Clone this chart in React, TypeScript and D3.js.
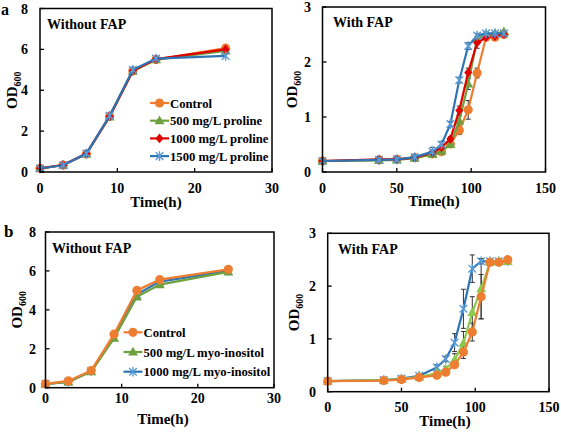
import React from "react";
import * as d3 from "d3";

// ---------- DATA ----------
const aLeftTime = [0, 3, 6, 9, 12, 15, 24];
const aLeftControl = [0.18, 0.34, 0.88, 2.72, 4.95, 5.5, 6.06];
const aLeftPro500 = [0.18, 0.34, 0.88, 2.7, 4.93, 5.5, 5.92];
const aLeftPro1000 = [0.18, 0.34, 0.9, 2.72, 4.95, 5.52, 6.0];
const aLeftPro1500 = [0.17, 0.33, 0.9, 2.75, 5.0, 5.55, 5.68];

const aRightTime = [0, 38, 50, 62, 74, 80, 86, 92, 98, 104, 110, 116, 122];
const aRightControl = [0.2, 0.22, 0.23, 0.26, 0.33, 0.37, 0.51, 0.76, 1.13, 1.8, 2.45, 2.45, 2.5];
const aRightControlErr = [0, 0, 0, 0, 0, 0.02, 0.04, 0.08, 0.17, 0.09, 0, 0, 0];
const aRightPro500 = [0.2, 0.21, 0.22, 0.25, 0.32, 0.38, 0.5, 0.93, 1.6, 2.42, 2.5, 2.52, 2.55];
const aRightPro500Err = [0, 0, 0, 0, 0.03, 0.04, 0.05, 0.1, 0.1, 0.05, 0.03, 0, 0];
const aRightPro1000 = [0.2, 0.23, 0.23, 0.26, 0.35, 0.45, 0.6, 1.12, 1.81, 2.35, 2.45, 2.47, 2.5];
const aRightPro1000Err = [0, 0, 0, 0, 0, 0.03, 0.04, 0.08, 0.08, 0.1, 0.03, 0, 0];
const aRightPro1500 = [0.2, 0.22, 0.23, 0.27, 0.37, 0.5, 0.87, 1.67, 2.29, 2.48, 2.52, 2.52, 2.52];
const aRightPro1500Err = [0, 0, 0, 0, 0.08, 0.05, 0.05, 0.05, 0.06, 0.04, 0.03, 0.03, 0.03];

const bLeftTime = [0, 3, 6, 9, 12, 15, 24];
const bLeftControl = [0.2, 0.35, 0.88, 2.75, 5.0, 5.55, 6.08];
const bLeftIno500 = [0.18, 0.3, 0.82, 2.55, 4.67, 5.3, 5.95];
const bLeftIno1000 = [0.2, 0.3, 0.85, 2.6, 4.8, 5.45, 6.0];

const bRightTime = [0, 38, 50, 62, 74, 80, 86, 92, 98, 104, 110, 116, 122];
const bRightControl = [0.2, 0.21, 0.23, 0.27, 0.31, 0.37, 0.51, 0.75, 1.13, 1.8, 2.45, 2.45, 2.5];
const bRightControlErr = [0, 0, 0, 0, 0, 0, 0.05, 0.12, 0.17, 0.42, 0, 0, 0];
const bRightIno500 = [0.2, 0.22, 0.24, 0.28, 0.35, 0.43, 0.6, 0.92, 1.5, 1.95, 2.45, 2.47, 2.47];
const bRightIno500Err = [0, 0, 0, 0, 0.03, 0.05, 0.12, 0.22, 0.3, 0.57, 0.03, 0.03, 0.03];
const bRightIno1000 = [0.2, 0.22, 0.25, 0.3, 0.46, 0.62, 0.93, 1.57, 2.33, 2.47, 2.47, 2.47, 2.47];
const bRightIno1000Err = [0, 0, 0, 0, 0.05, 0.05, 0.17, 0.37, 0.26, 0.05, 0.05, 0.05, 0.05];

const timeTicks30 = [0, 10, 20, 30];
const timeTicks150 = [0, 50, 100, 150];
const odTicks8 = [0, 2, 4, 6, 8];
const odTicks3 = [0, 1, 2, 3];

const legendA = ["Control", "500 mg/L proline", "1000 mg/L proline", "1500 mg/L proline"];
const legendB = ["Control", "500 mg/L myo-inositol", "1000 mg/L myo-inositol"];

// ---------- STYLES ----------
const FONT = "'Times New Roman', 'Liberation Serif', serif";
const ORANGE = "#ED7D31";
const GREEN = "#6FA03F";
const GREEN_LIGHT = "#8DC94E";
const RED = "#E00000";
const BLUE = "#2E75B6";
const BLUE_MK = "#5B9BD5";

type Marker = "circle" | "triangle" | "diamond" | "star";
type Series = { name: string; y: number[]; err?: number[]; color: string; mcolor: string; marker: Marker };

function MarkerShape({ type, x, y, color }: { type: Marker; x: number; y: number; color: string }) {
  if (type === "circle") return <circle cx={x} cy={y} r={4.6} fill={color} />;
  if (type === "triangle")
    return <path d={`M${x},${y - 5.2} L${x + 5},${y + 3.6} L${x - 5},${y + 3.6} Z`} fill={color} />;
  if (type === "diamond")
    return <path d={`M${x},${y - 4.8} L${x + 4},${y} L${x},${y + 4.8} L${x - 4},${y} Z`} fill={color} />;
  return (
    <path
      d={`M${x - 3.8},${y - 3.8} L${x + 3.8},${y + 3.8} M${x - 3.8},${y + 3.8} L${x + 3.8},${y - 3.8} M${x},${y - 4.8} L${x},${y + 4.8}`}
      stroke={color}
      strokeWidth={1.4}
      fill="none"
    />
  );
}

type PanelProps = {
  left: number; right: number; top: number; bottom: number;
  xMax: number; yMax: number; xTicks: number[]; yTicks: number[];
  time: number[]; series: Series[];
  title: string; titleX: number; titleY: number;
  tickLabelDy: number; xTitleDy: number; xTitleX: number;
  yLabelX: number; yTitleX: number;
  legend?: { x: number; y: number; dy: number; names: string[]; order: Series[] };
};

function Panel(p: PanelProps) {
  const x = d3.scaleLinear().domain([0, p.xMax]).range([p.left, p.right]);
  const y = d3.scaleLinear().domain([0, p.yMax]).range([p.bottom, p.top]);
  const line = d3.line<number>().x((_, i) => x(p.time[i])).y((d) => y(d));
  return (
    <g>
      {p.series.map((s) =>
        (s.err || []).map((e, i) =>
          e > 0 ? (
            <g key={s.name + "e" + i} stroke="#333" strokeWidth={1}>
              <line x1={x(p.time[i])} x2={x(p.time[i])} y1={y(s.y[i] - e)} y2={y(s.y[i] + e)} />
              <line x1={x(p.time[i]) - 2.5} x2={x(p.time[i]) + 2.5} y1={y(s.y[i] - e)} y2={y(s.y[i] - e)} />
              <line x1={x(p.time[i]) - 2.5} x2={x(p.time[i]) + 2.5} y1={y(s.y[i] + e)} y2={y(s.y[i] + e)} />
            </g>
          ) : null
        )
      )}
      {p.series.map((s) => (
        <g key={s.name}>
          <path d={line(s.y) || ""} fill="none" stroke={s.color} strokeWidth={2.2} />
          {s.y.map((v, i) => (
            <MarkerShape key={i} type={s.marker} x={x(p.time[i])} y={y(v)} color={s.mcolor} />
          ))}
        </g>
      ))}
      <rect x={p.left} y={p.top} width={p.right - p.left} height={p.bottom - p.top} fill="none" stroke="#000" strokeWidth={1.5} />
      {p.xTicks.map((t) => (
        <g key={"xt" + t}>
          <line x1={x(t)} x2={x(t)} y1={p.bottom} y2={p.bottom - 4} stroke="#000" strokeWidth={1.3} />
          <text x={x(t)} y={p.bottom + p.tickLabelDy} textAnchor="middle" fontSize={14} fontWeight="bold" fontFamily={FONT}>{t}</text>
        </g>
      ))}
      {p.yTicks.map((t) => (
        <g key={"yt" + t}>
          <line x1={p.left} x2={p.left + 4} y1={y(t)} y2={y(t)} stroke="#000" strokeWidth={1.3} />
          <text x={p.yLabelX} y={y(t) + 5} textAnchor="end" fontSize={14} fontWeight="bold" fontFamily={FONT}>{t}</text>
        </g>
      ))}
      <text x={p.xTitleX} y={p.bottom + p.xTitleDy} textAnchor="middle" fontSize={15} fontWeight="bold" fontFamily={FONT}>Time(h)</text>
      <text
        transform={`translate(${p.yTitleX},${(p.top + p.bottom) / 2}) rotate(-90)`}
        textAnchor="middle"
        fontSize={15}
        fontWeight="bold"
        fontFamily={FONT}
      >
        OD<tspan fontSize={10} dy={4}>600</tspan>
      </text>
      <text x={p.titleX} y={p.titleY} fontSize={14} fontWeight="bold" fontFamily={FONT}>{p.title}</text>
      {p.legend &&
        p.legend.order.map((s, i) => {
          const ly = p.legend!.y + i * p.legend!.dy;
          const lx = p.legend!.x;
          return (
            <g key={"lg" + i}>
              <line x1={lx} x2={lx + 19} y1={ly} y2={ly} stroke={s.color} strokeWidth={2.2} />
              <MarkerShape type={s.marker} x={lx + 9.5} y={ly} color={s.mcolor} />
              <text x={lx + 20} y={ly + 4.5} fontSize={12.7} fontWeight="bold" fontFamily={FONT}>{p.legend!.names[i]}</text>
            </g>
          );
        })}
    </g>
  );
}

export default function App() {
  const aLeftSeries: Series[] = [
    { name: "c", y: aLeftControl, color: ORANGE, mcolor: ORANGE, marker: "circle" },
    { name: "p500", y: aLeftPro500, color: GREEN, mcolor: GREEN, marker: "triangle" },
    { name: "p1000", y: aLeftPro1000, color: RED, mcolor: RED, marker: "diamond" },
    { name: "p1500", y: aLeftPro1500, color: BLUE, mcolor: BLUE_MK, marker: "star" },
  ];
  const aRightSeries: Series[] = [
    { name: "c", y: aRightControl, err: aRightControlErr, color: ORANGE, mcolor: ORANGE, marker: "circle" },
    { name: "p500", y: aRightPro500, err: aRightPro500Err, color: GREEN, mcolor: GREEN, marker: "triangle" },
    { name: "p1000", y: aRightPro1000, err: aRightPro1000Err, color: RED, mcolor: RED, marker: "diamond" },
    { name: "p1500", y: aRightPro1500, err: aRightPro1500Err, color: BLUE, mcolor: BLUE_MK, marker: "star" },
  ];
  const bLeftSeries: Series[] = [
    { name: "i1000", y: bLeftIno1000, color: BLUE, mcolor: BLUE_MK, marker: "star" },
    { name: "i500", y: bLeftIno500, color: GREEN, mcolor: GREEN, marker: "triangle" },
    { name: "c", y: bLeftControl, color: ORANGE, mcolor: ORANGE, marker: "circle" },
  ];
  const bRightSeries: Series[] = [
    { name: "i1000", y: bRightIno1000, err: bRightIno1000Err, color: BLUE, mcolor: BLUE_MK, marker: "star" },
    { name: "i500", y: bRightIno500, err: bRightIno500Err, color: GREEN_LIGHT, mcolor: GREEN_LIGHT, marker: "triangle" },
    { name: "c", y: bRightControl, err: bRightControlErr, color: ORANGE, mcolor: ORANGE, marker: "circle" },
  ];
  return (
    <svg width={561} height={433} style={{ position: "absolute", left: 0, top: 0, background: "#fff" }}>
      <rect width={561} height={433} fill="#fff" />
      <text x={1} y={15} fontSize={16} fontWeight="bold" fontFamily={FONT}>a</text>
      <text x={4} y={237} fontSize={17} fontWeight="bold" fontFamily={FONT}>b</text>
      <Panel
        left={40} right={272} top={8.5} bottom={172}
        xMax={30} yMax={8} xTicks={timeTicks30} yTicks={odTicks8}
        time={aLeftTime} series={aLeftSeries}
        title="Without FAP" titleX={47} titleY={29}
        tickLabelDy={21} xTitleDy={35} xTitleX={156}
        yLabelX={28} yTitleX={17}
        legend={{ x: 150, y: 103, dy: 17.7, names: legendA, order: aLeftSeries }}
      />
      <Panel
        left={322.5} right={545.5} top={7} bottom={172}
        xMax={150} yMax={3} xTicks={timeTicks150} yTicks={odTicks3}
        time={aRightTime} series={aRightSeries}
        title="With FAP" titleX={333} titleY={27}
        tickLabelDy={21} xTitleDy={34} xTitleX={434}
        yLabelX={311} yTitleX={297}
      />
      <Panel
        left={45.5} right={274} top={232} bottom={387.7}
        xMax={30} yMax={8} xTicks={timeTicks30} yTicks={odTicks8}
        time={bLeftTime} series={bLeftSeries}
        title="Without FAP" titleX={52} titleY={252.5}
        tickLabelDy={15} xTitleDy={36} xTitleX={163}
        yLabelX={36} yTitleX={22}
        legend={{ x: 123.5, y: 332.3, dy: 19.7, names: legendB, order: [bLeftSeries[2], bLeftSeries[1], bLeftSeries[0]] }}
      />
      <Panel
        left={327.7} right={549} top={233.3} bottom={391.7}
        xMax={150} yMax={3} xTicks={timeTicks150} yTicks={odTicks3}
        time={bRightTime} series={bRightSeries}
        title="With FAP" titleX={338} titleY={254}
        tickLabelDy={20} xTitleDy={34} xTitleX={445}
        yLabelX={316} yTitleX={299}
      />
    </svg>
  );
}
